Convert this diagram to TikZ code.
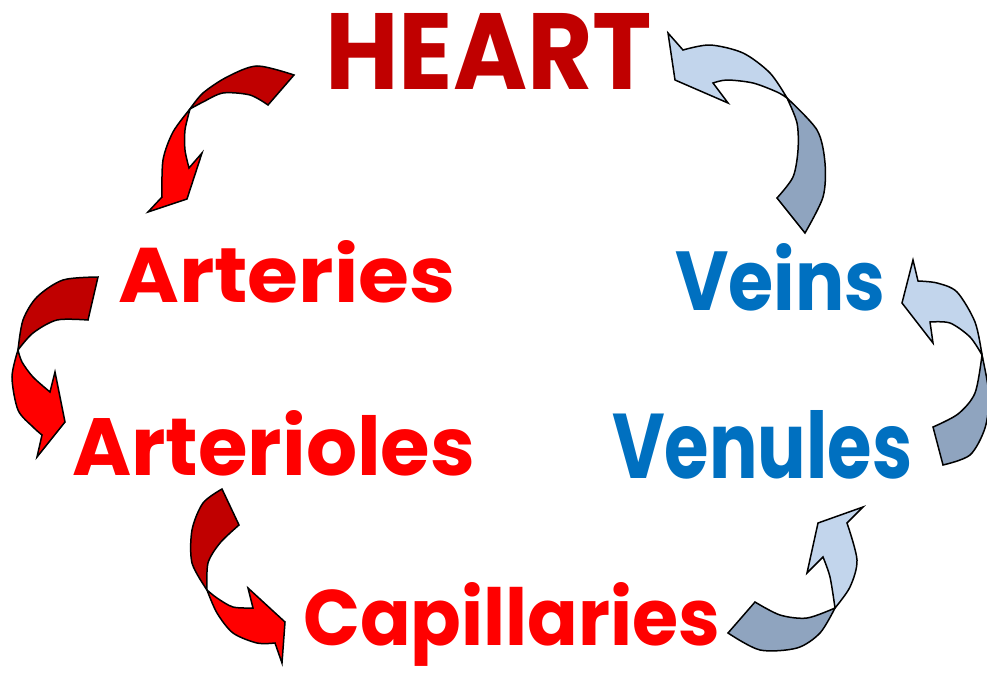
\documentclass[tikz,border=0pt]{standalone}
\usepackage{fontspec}
\setmainfont{Poppins}
\usepackage{xcolor}
\usepackage{tikz}
\definecolor{heartred}{HTML}{C00000}
\definecolor{arteryred}{HTML}{FF0000}
\definecolor{veinblue}{HTML}{0070C0}
\definecolor{bandback}{HTML}{8FA4BF}
\definecolor{bandfront}{HTML}{C2D5EC}
\tikzset{
 redback/.style={fill=heartred,draw=black,line width=1.5pt},
 redfront/.style={fill=arteryred,draw=black,line width=1.5pt},
 blueback/.style={fill=bandback,draw=black,line width=1.5pt},
 bluefront/.style={fill=bandfront,draw=black,line width=1.5pt},
 organ/.style={inner sep=0pt,anchor=base west}
}
\newcommand{\organtext}[3]{\resizebox{#1pt}{#2pt}{\bfseries #3}}

\begin{document}
\begin{tikzpicture}[x=1pt,y=-1pt]
\useasboundingbox (0,0) rectangle (987,672);
\node[organ,text=heartred] (heart) at (325,89) {\organtext{327}{76}{HEART}};
\node[organ,text=arteryred] (arteries) at (118,302) {\organtext{337}{62}{Arteries}};
\node[organ,text=arteryred] (arterioles) at (72,475) {\organtext{403}{65}{Arterioles}};
\node[organ,text=arteryred] (capillaries) at (303,645) {\organtext{417}{63}{Capillaries}};
\node[organ,text=veinblue] (veins) at (675,310) {\organtext{210}{67}{Veins}};
\node[organ,text=veinblue] (venules) at (612,478) {\organtext{300}{68}{Venules}};
% heart -> arteries
\filldraw[redback](294,75)--(268,105)--plot[smooth]coordinates{(268,105)(250,95)(223,93)(203,102)(190,109)}
 --plot[smooth]coordinates{(190,109)(203,93)(227,77)(257,66)(294,75)}--cycle;
\filldraw[redfront](190,109)--plot[smooth]coordinates{(190,109)(173,132)(163,160)(162,197)}
 --(148,212)--(187,199)--(202,153)--(189,168)--plot[smooth]coordinates{(189,168)(185,150)(185,130)(190,109)}--cycle;
% arteries -> arterioles
\filldraw[redback](98,277)--(88,320)--plot[smooth]coordinates{(88,320)(57,320)(33,333)(18,350)}
 --plot[smooth]coordinates{(18,350)(23,320)(37,297)(63,280)(98,277)}--cycle;
\filldraw[redfront](18,350)--plot[smooth]coordinates{(18,350)(12,377)(18,410)(33,427)(42,435)}
 --(37,457)--(65,422)--(55,372)--(50,392)--plot[smooth]coordinates{(50,392)(33,377)(22,362)(18,350)}--cycle;
% arterioles -> capillaries
\filldraw[redback](222,489)--(239,525)--plot[smooth]coordinates{(239,525)(220,543)(208,563)(207,590)}
 --plot[smooth]coordinates{(207,590)(192,563)(192,530)(203,503)(222,489)}--cycle;
\filldraw[redfront](207,590)--plot[smooth]coordinates{(207,590)(217,613)(233,633)(257,643)(275,643)}
 --(282,663)--(285,622)--(248,588)--(253,608)--plot[smooth]coordinates{(253,608)(233,607)(217,598)(207,590)}--cycle;
% capillaries -> venules
\filldraw[blueback](728,633)--(755,602)--plot[smooth]coordinates{(755,602)(780,615)(807,618)(835,608)}
 --plot[smooth]coordinates{(835,608)(820,633)(797,648)(760,650)(728,633)}--cycle;
\filldraw[bluefront](835,608)--plot[smooth]coordinates{(835,608)(850,587)(857,560)(847,523)}
 --(863,507)--(818,523)--(807,573)--(823,557)--plot[smooth]coordinates{(823,557)(830,577)(835,608)}--cycle;
% venules -> veins
\filldraw[blueback](933,427)--(943,465)--plot[smooth]coordinates{(943,465)(970,455)(985,428)(989,395)(982,355)}
 --plot[smooth]coordinates{(982,355)(975,393)(958,414)(933,427)}--cycle;
\filldraw[bluefront](982,355)--plot[smooth]coordinates{(982,355)(975,322)(957,292)(937,283)(918,281)}
 --(913,260)--(902,303)--(933,343)--(930,322)--plot[smooth]coordinates{(930,322)(950,323)(970,337)(982,355)}--cycle;
% veins -> heart
\filldraw[blueback](805,233)--(777,198)--plot[smooth]coordinates{(777,198)(793,177)(798,150)(797,123)(787,98)}
 --plot[smooth]coordinates{(787,98)(817,130)(825,163)(823,197)(805,233)}--cycle;
\filldraw[bluefront](787,98)--plot[smooth]coordinates{(787,98)(770,73)(743,53)(710,45)(683,50)}
 --(668,33)--(675,80)--(728,103)--(713,83)--plot[smooth]coordinates{(713,83)(727,80)(753,83)(777,92)(787,98)}--cycle;
\end{tikzpicture}
\end{document}
